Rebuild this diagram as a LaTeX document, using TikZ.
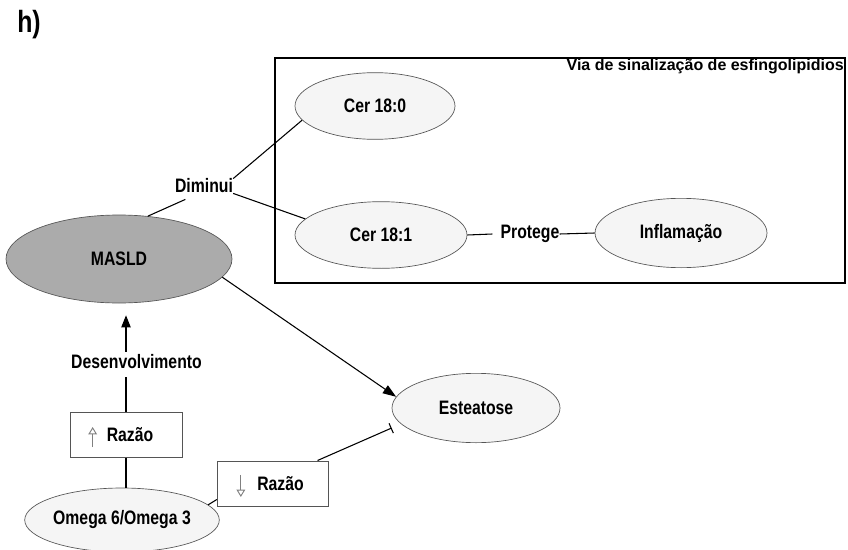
\documentclass[tikz,border=0pt]{standalone}
\usepackage{fontspec}
\setmainfont{Liberation Sans}[FakeStretch=0.81]
\newfontfamily\titlefont{Liberation Sans}
\usetikzlibrary{shapes.geometric,arrows.meta}
\definecolor{masldgray}{HTML}{ABABAB}
\definecolor{ellfill}{HTML}{F5F5F5}
\definecolor{edgegray}{HTML}{555555}
\begin{document}
\begin{tikzpicture}[x=0.75pt,y=-0.75pt,
  font=\bfseries\fontsize{14.6}{17}\selectfont,
  ell/.style={ellipse, draw=edgegray, fill=ellfill, inner sep=0pt, line width=0.5pt},
  lbl/.style={inner sep=0pt},
  rbox/.style={rectangle, draw=edgegray, fill=white, minimum width=84pt, minimum height=34pt, inner sep=0pt, line width=0.5pt},
  conn/.style={line width=0.8pt, black},
  hollow/.style={draw=gray, line width=0.7pt, -{Triangle[open, length=5.5pt, width=6.5pt]}}
]
\useasboundingbox (0,0) rectangle (848,549);
\fill[white] (0,0) rectangle (848,549);

\node[font=\bfseries\fontsize{23}{25}\selectfont, inner sep=0pt] (h) at (29,25) {h)};

% frame
\node[draw, line width=1.5pt, minimum width=427.5pt, minimum height=168.75pt, inner sep=0pt] (frame) at (560,170.5) {};
\node[anchor=north east, inner sep=0pt, font=\titlefont\bfseries\fontsize{12}{14}\selectfont] (title) at ([xshift=-1.5pt,yshift=-1.2pt]frame.north east) {Via de sinalização de esfingolipidios};

% ellipses
\node[ell, minimum width=120pt, minimum height=50pt] (cer0) at (375,106) {Cer 18:0};
\node[ell, minimum width=129pt, minimum height=50pt] (cer1) at (381,235) {Cer 18:1};
\node[ell, minimum width=129pt, minimum height=52pt] (infl) at (681,233) {\raisebox{-1.5pt}{Inflamação}};
\node[ell, fill=masldgray, minimum width=169.5pt, minimum height=66pt] (masld) at (119,259) {MASLD};
\node[ell, minimum width=126pt, minimum height=52pt] (est) at (476,408) {Esteatose};
\node[ell, minimum width=127.5pt, minimum height=48pt] (omega) at (122,520) {Omega 6/Omega 3};

% labels
\node[lbl] (dim) at (204,186) {Diminui};
\node[lbl] (prot) at (530,234) {Protege};
\node[lbl] (des) at (136.5,362) {Desenvolvimento};

% boxes
\node[rbox] (up) at (126,434.5) {\hspace*{6pt}Razão};
\node[rbox, minimum width=83pt] (down) at (272.5,483.5) {\hspace*{12pt}Razão};
\draw[hollow] ([xshift=17.25pt,yshift=-9.4pt]up.west) -- ([xshift=17.25pt,yshift=5.6pt]up.west);
\draw[hollow] ([xshift=18pt,yshift=6.4pt]down.west) -- ([xshift=18pt,yshift=-10.1pt]down.west);

% connectors
\draw[conn] (masld.56) -- ([xshift=-14pt,yshift=-4.5pt]dim.south);
\draw[conn] (dim.north east) -- (cer0.191);
\draw[conn] (dim.south east) -- (cer1.168);
\draw[conn] (cer1.east) -- ([xshift=-6pt]prot.west);
\draw[conn] (prot.east) -- (infl.west);
\draw[conn, -{Triangle[length=10pt,width=7pt]}] (masld.-10) -- (est.172);
\draw[conn, -{Triangle[length=9pt,width=7pt]}, shorten >=9pt] ([yshift=2pt]up.north |- des.north) -- (up.north |- masld.south);
\draw[conn] ([yshift=-6pt]up.north |- des.south) -- (up.north);
\draw[conn] (up.south) -- (up.south |- omega.north);
\draw[conn] (omega.10) -- ([yshift=-12pt]down.west);
\draw[conn, -{Bar[width=8pt]}] ([xshift=-8pt]down.north east) -- ([yshift=-15pt]est.west);
\end{tikzpicture}
\end{document}
